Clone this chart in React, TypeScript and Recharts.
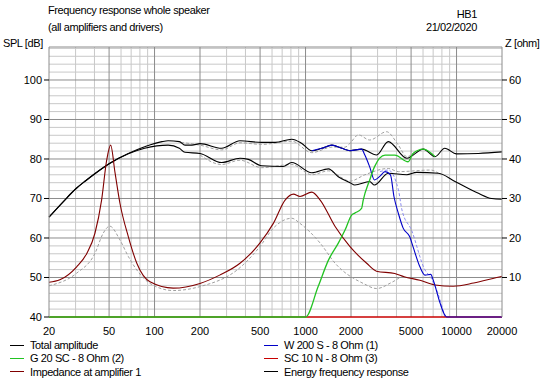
import { LineChart, Line, XAxis, YAxis, ReferenceLine } from 'recharts';

// frequency (Hz) / level pairs
const totalAmp = [
  [20, 65.3], [25, 69.3], [30, 72.4], [35, 74.5], [40, 76.2], [50, 78.8], [67, 81.4], [86, 83.1], [112, 84.4], [123, 84.6],
  [146, 84.4], [159, 83.5], [177, 83.5], [200, 83.9], [278, 82.7], [368, 84.6], [512, 84.2], [630, 84.2], [810, 85.0],
  [940, 84.0], [1100, 82.1], [1280, 82.7], [1494, 83.5], [1740, 82.7], [1970, 82.1], [2350, 82.5], [2956, 81.0],
  [3530, 84.4], [4680, 80.2], [6030, 82.5], [7200, 80.6], [8360, 82.7], [10000, 81.3], [13960, 81.4], [20000, 81.8],
];
const energyResp = [
  [20, 65.3], [25, 69.3], [30, 72.4], [35, 74.5], [40, 76.2], [50, 78.8], [67, 81.3], [86, 82.7], [123, 83.5], [146, 82.7],
  [159, 81.7], [200, 81.4], [278, 79.1], [368, 80.2], [418, 79.9], [512, 78.3], [710, 78.1], [810, 79.1], [1100, 76.5],
  [1418, 77.5], [1648, 75.5], [1970, 74.0], [2120, 73.4], [2660, 74.3], [2860, 73.4], [3530, 76.4], [4680, 76.0],
  [5440, 76.6], [7580, 76.4], [9770, 74.3], [13960, 71.3], [17100, 70.0], [20000, 69.8],
];
const woofer = [
  [1100, 82.1], [1280, 82.7], [1494, 83.5], [1740, 82.7], [1970, 82.1], [2350, 82.5], [2470, 81.0], [2660, 78.0],
  [2860, 74.7], [3100, 75.6], [3360, 76.8], [3650, 76.0], [3850, 70.5], [4120, 66.2], [4430, 62.5], [4900, 60.3],
  [5150, 57.8], [5720, 52.7], [6180, 50.6], [6750, 50.8], [7000, 49.4], [7780, 43.5], [8250, 40.9], [8600, 40], [20000, 40],
];
const midDriver = [
  [20, 40], [1000, 40], [1212, 47.7], [1418, 54.4], [1648, 58.7], [1826, 62.0], [2020, 65.8], [2120, 66.3],
  [2350, 67.5], [2410, 69.6], [2660, 74.7], [2860, 78.0], [3360, 81.0], [3900, 81.0], [4780, 79.3], [5150, 81.4],
  [6030, 82.5], [7200, 80.6],
];
const tweeter = [[20, 40], [20000, 40]];
const impedance = [
  [20, 8.8], [23.6, 9.4], [30.5, 12.7], [35.6, 16.1], [40.3, 21.2], [44.6, 29.6], [48.2, 39.7], [51.2, 43.5],
  [54.8, 36.4], [59, 28.8], [67.1, 20.3], [76.3, 13.6], [93.3, 8.9], [133, 7.3], [200, 8.5], [270, 10.6],
  [368, 13.6], [498, 18.7], [612, 23.7], [732, 29.6], [832, 31.1], [918, 30.5], [1100, 31.6], [1250, 29.6],
  [1570, 22.9], [1970, 17.8], [2540, 13.6], [2950, 11.6], [3900, 11.0], [4500, 10.2], [5720, 9.3], [7200, 8.1],
  [9500, 7.8], [12980, 8.6], [18460, 10.0], [20000, 10.3],
];
// grey dashed overlays (previous measurement)
const refImpedance = [
  [20, 7.9], [30.5, 11.1], [40.3, 16.1], [45.7, 21.2], [50.5, 23.0], [59, 19.5], [67.1, 15.3], [76.3, 11.9],
  [93.3, 8.5], [133, 6.7], [200, 7.7], [368, 12.5], [498, 17.8], [612, 22.5], [810, 25.0], [918, 23.7],
  [1250, 18.7], [1570, 13.6], [2410, 8.5], [2956, 7.2], [3780, 8.9], [4430, 10.2], [4600, 10.1],
];
const refTotal = [
  [150, 84.2], [200, 83.5], [278, 82.3], [368, 84.1], [512, 83.7], [810, 84.5], [1100, 81.6], [1494, 83.0],
  [1826, 83.0], [1970, 84.0], [2240, 86.1], [2660, 84.8], [3440, 86.9], [4120, 83.5], [4680, 80.6], [5200, 81.5],
];
const refEnergy = [
  [200, 81.0], [278, 78.6], [368, 79.7], [512, 77.8], [810, 78.6], [1100, 76.0], [1418, 77.0], [1970, 74.4],
  [2470, 76.0], [3530, 77.6], [4120, 76.8], [6750, 77.2], [7580, 76.4],
];
const refWoofer = [
  [3110, 76.8], [3530, 77.2], [4120, 72.2], [4350, 67.1], [5030, 62.0], [6180, 51.9], [6750, 50.0], [7780, 44.3],
  [8360, 40],
];

const xTicks = [20, 50, 100, 200, 500, 1000, 2000, 5000, 10000, 20000];
const xMinor = [30, 40, 60, 70, 80, 90, 300, 400, 600, 700, 800, 900, 3000, 4000, 6000, 7000, 8000, 9000];
const splTicks = [40, 50, 60, 70, 80, 90, 100];
const splMinor = [42, 44, 46, 48, 52, 54, 56, 58, 62, 64, 66, 68, 72, 74, 76, 78, 82, 84, 86, 88, 92, 94, 96, 98, 102, 104, 106, 108];
const zTicks = [10, 20, 30, 40, 50, 60];
const SPL_MAX = 108.35;
const Z_MAX = 68.35;

const toRows = (arr: number[][]) => arr.map(([f, v]) => ({ f, v }));

const FONT = '"Liberation Sans", Arial, sans-serif';
const MAJOR = '#8c8c8c';
const MINOR = '#c8c8c8';

const legendLeft = [
  { name: 'Total amplitude', color: '#000000' },
  { name: 'G 20 SC - 8 Ohm (2)', color: '#22c322' },
  { name: 'Impedance at amplifier 1', color: '#800000' },
];
const legendRight = [
  { name: 'W 200 S - 8 Ohm (1)', color: '#0000c8' },
  { name: 'SC 10 N - 8 Ohm (3)', color: '#c80000' },
  { name: 'Energy frequency response', color: '#000000' },
];

const txt: React.CSSProperties = {
  position: 'absolute', fontFamily: FONT, fontSize: 11, lineHeight: '13px', letterSpacing: -0.4, color: '#000', whiteSpace: 'nowrap',
};

function LegendCol({ items, left }: { items: { name: string; color: string }[]; left: number }) {
  return (
    <>
      {items.map((it, i) => (
        <div key={it.name} style={{ ...txt, left, top: 339 + i * 13.3 }}>
          <span style={{ display: 'inline-block', width: 14, height: 1, background: it.color, verticalAlign: 'middle', marginRight: 6, marginBottom: 2 }} />
          {it.name}
        </div>
      ))}
    </>
  );
}

export default function App() {
  const tickStyle = { fontFamily: FONT, fontSize: 11, fill: '#000' };
  const solid = { dot: false as const, isAnimationActive: false, type: 'monotone' as const };
  const dashed = { ...solid, strokeDasharray: '3 2', strokeWidth: 1 };
  return (
    <div style={{ position: 'absolute', left: 0, top: 0, width: 550, height: 382, background: '#fff', overflow: 'hidden' }}>
      <div style={{ ...txt, left: 48, top: 4 }}>Frequency response whole speaker</div>
      <div style={{ ...txt, left: 48, top: 21 }}>(all amplifiers and drivers)</div>
      <div style={{ ...txt, right: 73, top: 8 }}>HB1</div>
      <div style={{ ...txt, right: 73, top: 21 }}>21/02/2020</div>
      <div style={{ ...txt, left: 3, top: 37 }}>SPL [dB]</div>
      <div style={{ ...txt, left: 505, top: 37 }}>Z [ohm]</div>

      <LineChart width={550} height={382} margin={{ top: 47, right: 0, bottom: 0, left: 0 }} style={{ position: 'absolute', left: 0, top: 0 }}>
        <XAxis
          dataKey="f" type="number" scale="log" domain={[20, 20000]} ticks={xTicks}
          height={65} tickLine={false} tickMargin={4} axisLine={false} tick={tickStyle}
          tickFormatter={(v) => String(v)} interval={0}
        />
        <YAxis
          yAxisId="spl" type="number" domain={[40, SPL_MAX]} ticks={splTicks} width={49}
          tickSize={5} tickMargin={2} tickLine={{ stroke: '#000' }} axisLine={{ stroke: MAJOR }} tick={tickStyle} interval={0}
        />
        <YAxis
          yAxisId="z" orientation="right" type="number" domain={[0, Z_MAX]} ticks={zTicks} width={48}
          tickSize={5} tickMargin={2} tickLine={{ stroke: '#000' }} axisLine={{ stroke: MAJOR }} tick={tickStyle} interval={0}
        />

        {splMinor.map((v) => <ReferenceLine key={'hm' + v} yAxisId="spl" y={v} stroke={MINOR} />)}
        {xMinor.map((v) => <ReferenceLine key={'vm' + v} yAxisId="spl" x={v} stroke={MINOR} />)}
        {splTicks.slice(1).map((v) => <ReferenceLine key={'hM' + v} yAxisId="spl" y={v} stroke={MAJOR} />)}
        {xTicks.slice(1, -1).map((v) => <ReferenceLine key={'vM' + v} yAxisId="spl" x={v} stroke={MAJOR} />)}
        <ReferenceLine yAxisId="spl" y={SPL_MAX} stroke={MAJOR} />

        <Line {...dashed} data={toRows(refImpedance)} yAxisId="z" dataKey="v" stroke="#a0a0a0" />
        <Line {...dashed} data={toRows(refTotal)} yAxisId="spl" dataKey="v" stroke="#a0a0a0" />
        <Line {...dashed} data={toRows(refEnergy)} yAxisId="spl" dataKey="v" stroke="#a0a0a0" />
        <Line {...dashed} data={toRows(refWoofer)} yAxisId="spl" dataKey="v" stroke="#8c8cf0" />

        <Line {...solid} data={toRows(totalAmp)} yAxisId="spl" dataKey="v" stroke="#000" strokeWidth={1.1} />
        <Line {...solid} data={toRows(energyResp)} yAxisId="spl" dataKey="v" stroke="#000" strokeWidth={1.1} />
        <Line {...solid} data={toRows(impedance)} yAxisId="z" dataKey="v" stroke="#800000" strokeWidth={1.1} />
        <Line {...solid} data={toRows(tweeter)} yAxisId="spl" dataKey="v" stroke="#c80000" strokeWidth={1.6} />
        <Line {...solid} data={toRows(woofer)} yAxisId="spl" dataKey="v" stroke="#0000c8" strokeWidth={1.1} />
        <Line {...solid} data={toRows(midDriver)} yAxisId="spl" dataKey="v" stroke="#22c322" strokeWidth={1.3} />
      </LineChart>

      <LegendCol items={legendLeft} left={10} />
      <LegendCol items={legendRight} left={264} />
    </div>
  );
}
